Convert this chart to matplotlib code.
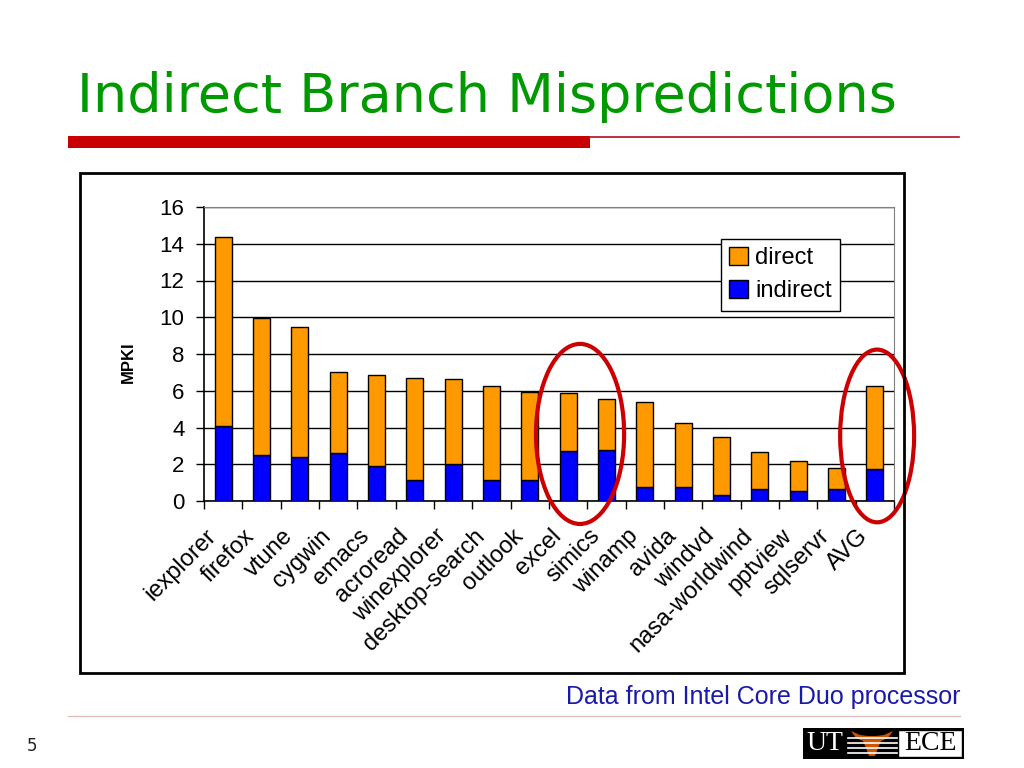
import matplotlib
matplotlib.use("Agg")
import matplotlib.pyplot as plt
from matplotlib.patches import Rectangle, Ellipse, Polygon
from matplotlib.transforms import ScaledTranslation
import numpy as np

# values (MPKI)
programs = ['iexplorer', 'firefox', 'vtune', 'cygwin', 'emacs', 'acroread',
            'winexplorer', 'desktop-search', 'outlook', 'excel', 'simics',
            'winamp', 'avida', 'windvd', 'nasa-worldwind', 'pptview',
            'sqlservr', 'AVG']
totals = [14.35, 9.97, 9.47, 7.02, 6.85, 6.70, 6.63, 6.28, 5.95, 5.87,
          5.55, 5.39, 4.25, 3.50, 2.68, 2.18, 1.80, 6.27]
indirect = [4.08, 2.52, 2.38, 2.60, 1.88, 1.15, 2.03, 1.15, 1.14, 2.70,
            2.80, 0.74, 0.74, 0.34, 0.65, 0.56, 0.65, 1.72]
direct = [t - i for t, i in zip(totals, indirect)]

W, H = 1024, 768


def fx(x):
    return x / W


def fy(y):
    return 1 - y / H


plt.rcParams['font.family'] = ['Liberation Sans', 'DejaVu Sans']

fig = plt.figure(figsize=(10.24, 7.68), dpi=100)

# slide title and decoration
fig.text(fx(77), fy(112), 'Indirect Branch Mispredictions', color='#009900',
         fontsize=39, family='DejaVu Sans', va='baseline', ha='left')
fig.patches.append(Rectangle((fx(68), fy(148)), fx(590) - fx(68), fy(136) - fy(148),
                             transform=fig.transFigure, color='#C80000', lw=0))
fig.lines.append(plt.Line2D([fx(590), fx(959)], [fy(136.5), fy(136.5)],
                            transform=fig.transFigure, color='#B01020', lw=1.2))

# chart frame
fig.patches.append(Rectangle((fx(80), fy(673)), fx(904) - fx(80), fy(173) - fy(673),
                             transform=fig.transFigure, fill=False, ec='black', lw=2))

ax = fig.add_axes([fx(204), fy(501), fx(894) - fx(204), fy(207) - fy(501)])
x = np.arange(len(programs))
b1 = ax.bar(x, indirect, width=0.44, color='#0000FF', edgecolor='black', lw=1, label='indirect', zorder=3)
b2 = ax.bar(x, direct, width=0.44, bottom=indirect, color='#FF9900', edgecolor='black', lw=1,
            label='direct', zorder=3)

ax.set_xlim(-0.5, len(programs) - 0.5)
ax.set_ylim(0, 16)
ax.set_yticks(range(0, 17, 2))
ax.yaxis.grid(True, color='black', lw=1)
ax.set_axisbelow(True)
ax.tick_params(axis='y', direction='out', length=6, width=1, labelsize=16, pad=8)

ax.set_xticks(x)
ax.set_xticklabels(programs, rotation=45, ha='right', rotation_mode='anchor', fontsize=17)
ax.set_xticks(np.arange(-0.5, len(programs)), minor=True)
ax.tick_params(axis='x', which='major', length=0, pad=10)
ax.tick_params(axis='x', which='minor', direction='out', length=6, width=1)
shift = ScaledTranslation(-18 / 100, -10 / 100, fig.dpi_scale_trans)
for lbl in ax.get_xticklabels():
    lbl.set_transform(lbl.get_transform() + shift)

for s in ['top', 'right']:
    ax.spines[s].set_color('#808080')
for s in ['left', 'bottom']:
    ax.spines[s].set_color('black')
    ax.spines[s].set_linewidth(1.2)

fig.text(fx(128), fy(362), 'MPKI', rotation=90, fontsize=12, fontweight='bold',
         ha='center', va='center')

leg = ax.legend([b2, b1], ['direct', 'indirect'], loc='upper left',
                bbox_to_anchor=(fx(721), fy(239)), bbox_transform=fig.transFigure,
                fontsize=17, fancybox=False, framealpha=1, edgecolor='black',
                handlelength=0.8, handleheight=0.8, handletextpad=0.3,
                borderpad=0.35, labelspacing=0.45, borderaxespad=0)
leg.get_frame().set_linewidth(1)

# red ellipses around excel/simics and AVG
ax.add_patch(Ellipse((9.31, 3.65), 2.3, 9.8, fill=False, ec='#CC0000', lw=3,
                     clip_on=False, zorder=5))
ax.add_patch(Ellipse((17.06, 3.54), 1.93, 9.4, fill=False, ec='#CC0000', lw=3,
                     clip_on=False, zorder=5))

# footer
fig.text(fx(960), fy(697), 'Data from Intel Core Duo processor', color='#1A1AAA',
         fontsize=18, ha='right', va='center')
fig.lines.append(plt.Line2D([fx(68), fx(960)], [fy(716), fy(716)],
                            transform=fig.transFigure, color='#E0BFC0', lw=1))
fig.text(fx(27), fy(746), '5', fontsize=12, family='DejaVu Sans', color='#222222',
         ha='left', va='center')

# UT ECE logo
fig.patches.append(Rectangle((fx(803), fy(759)), fx(964) - fx(803), fy(728) - fy(759),
                             transform=fig.transFigure, color='black', lw=0))
for yy in [738, 743, 748, 753]:
    fig.lines.append(plt.Line2D([fx(848), fx(897)], [fy(yy), fy(yy)],
                                transform=fig.transFigure, color='white', lw=1.2))
fig.patches.append(Rectangle((fx(898), fy(757)), fx(962) - fx(898), fy(730) - fy(757),
                             transform=fig.transFigure, fc='white', ec='black', lw=1))
horn = [(851, 731), (860, 735), (868, 736), (876, 736), (884, 735), (893, 731),
        (888, 738), (881, 741), (878, 748), (875, 756), (869, 756), (866, 748),
        (863, 741), (856, 738)]
fig.patches.append(Polygon([(fx(a), fy(b)) for a, b in horn], closed=True,
                           transform=fig.transFigure, color='#CC5500', lw=0))
fig.text(fx(825), fy(744), 'UT', color='white', fontsize=20, family='Liberation Serif',
         ha='center', va='center')
fig.text(fx(930), fy(744), 'ECE', color='black', fontsize=20, family='Liberation Serif',
         ha='center', va='center')

fig.savefig('out.png', dpi=100)
